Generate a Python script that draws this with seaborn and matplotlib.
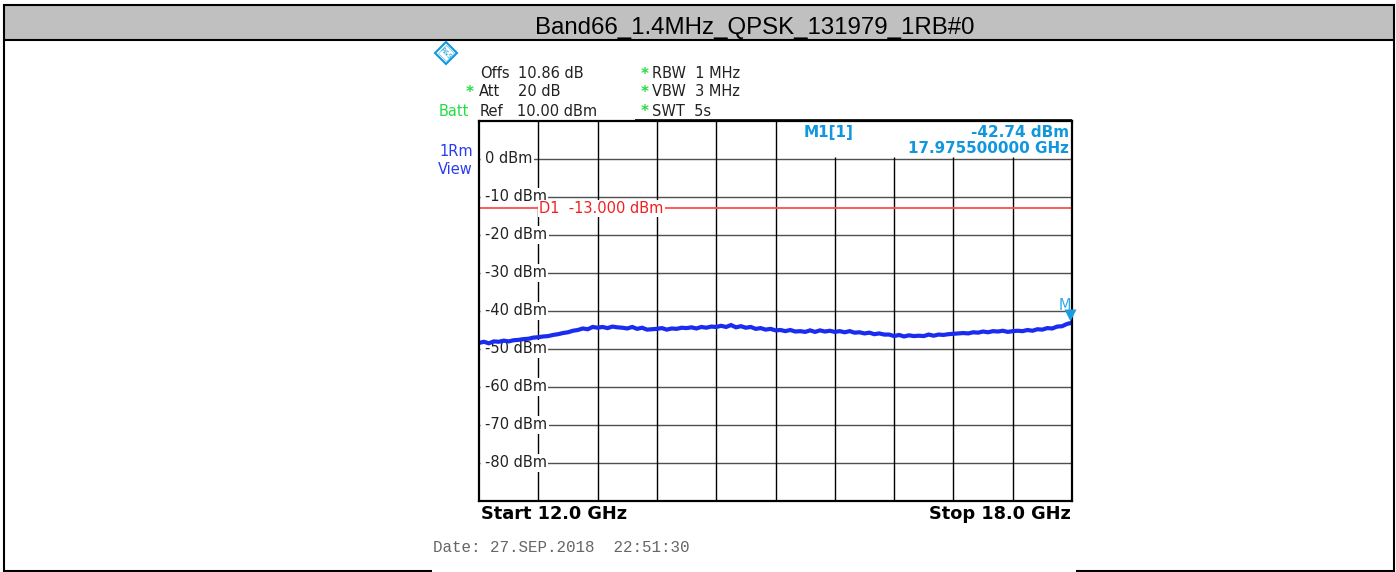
import matplotlib
matplotlib.use("Agg")
import matplotlib.pyplot as plt
from matplotlib.patches import Rectangle
import pandas as pd
import seaborn as sns

W, H = 1396, 572

title = "Band66_1.4MHz_QPSK_131979_1RB#0"

# trace, one reading every 0.05 GHz
freq_ghz = [12.0, 12.05, 12.1, 12.15, 12.2, 12.25, 12.3, 12.35, 12.4, 12.45, 12.5, 12.55,
            12.6, 12.65, 12.7, 12.75, 12.8, 12.85, 12.9, 12.95, 13.0, 13.05, 13.1, 13.15,
            13.2, 13.25, 13.3, 13.35, 13.4, 13.45, 13.5, 13.55, 13.6, 13.65, 13.7, 13.75,
            13.8, 13.85, 13.9, 13.95, 14.0, 14.05, 14.1, 14.15, 14.2, 14.25, 14.3, 14.35,
            14.4, 14.45, 14.5, 14.55, 14.6, 14.65, 14.7, 14.75, 14.8, 14.85, 14.9, 14.95,
            15.0, 15.05, 15.1, 15.15, 15.2, 15.25, 15.3, 15.35, 15.4, 15.45, 15.5, 15.55,
            15.6, 15.65, 15.7, 15.75, 15.8, 15.85, 15.9, 15.95, 16.0, 16.05, 16.1, 16.15,
            16.2, 16.25, 16.3, 16.35, 16.4, 16.45, 16.5, 16.55, 16.6, 16.65, 16.7, 16.75,
            16.8, 16.85, 16.9, 16.95, 17.0, 17.05, 17.1, 17.15, 17.2, 17.25, 17.3, 17.35,
            17.4, 17.45, 17.5, 17.55, 17.6, 17.65, 17.7, 17.75, 17.8, 17.85, 17.9, 17.95, 18.0]
level_dbm = [-48.4, -48.1, -48.5, -48.0, -48.1, -47.8, -48.0, -47.7, -47.6, -47.4, -47.3, -47.0,
             -46.9, -46.7, -46.6, -46.3, -46.1, -45.8, -45.6, -45.2, -45.0, -44.6, -44.8, -44.2,
             -44.4, -44.2, -44.5, -44.1, -44.3, -44.4, -44.6, -44.2, -44.7, -44.4, -44.9, -44.8,
             -44.7, -44.5, -44.9, -44.6, -44.7, -44.4, -44.5, -44.3, -44.6, -44.2, -44.4, -44.1,
             -44.2, -43.9, -44.2, -43.7, -44.3, -44.0, -44.4, -44.2, -44.7, -44.5, -44.9, -44.7,
             -45.1, -45.0, -45.3, -45.0, -45.4, -45.3, -45.5, -45.1, -45.5, -45.1, -45.4, -45.2,
             -45.5, -45.3, -45.6, -45.3, -45.7, -45.6, -45.9, -45.7, -46.1, -45.9, -46.2, -46.2,
             -46.6, -46.3, -46.7, -46.4, -46.6, -46.5, -46.6, -46.2, -46.5, -46.2, -46.3, -46.1,
             -46.0, -45.9, -45.8, -45.9, -45.6, -45.7, -45.4, -45.6, -45.3, -45.4, -45.2, -45.5,
             -45.3, -45.2, -45.3, -45.0, -45.2, -44.8, -44.9, -44.5, -44.6, -44.1, -44.0, -43.4, -43.1]

db_ticks = [0, -10, -20, -30, -40, -50, -60, -70, -80]
ghz_grid = [12.6, 13.2, 13.8, 14.4, 15.0, 15.6, 16.2, 16.8, 17.4]
limit_dbm = -13.0
marker_ghz = 17.9755
marker_dbm = -42.74

sns.set_theme(style="white")
plt.rcParams["font.family"] = ["DejaVu Sans"]

fig = plt.figure(figsize=(W / 100, H / 100), dpi=100)


def fx(px):
    return px / W


def fy(py):
    return 1 - py / H


def ftext(px, py, s, **kw):
    kw.setdefault("va", "center")
    kw.setdefault("fontsize", 10.5)
    kw.setdefault("color", "#222222")
    fig.text(fx(px), fy(py), s, **kw)


def fline(x0, y0, x1, y1, lw=1.5, color="black"):
    fig.add_artist(plt.Line2D([fx(x0), fx(x1)], [fy(y0), fy(y1)], lw=lw, color=color,
                              solid_capstyle="butt"))


# header band and outer frame
fig.add_artist(Rectangle((fx(4), fy(40)), fx(1390), 35 / H, transform=fig.transFigure,
                         facecolor="#c0c0c0", edgecolor="none"))
fline(3, 5, 1395, 5)
fline(3, 40, 1395, 40)
fline(4, 4, 4, 572)
fline(1394, 4, 1394, 572)
fline(3, 571.2, 432, 571.2)
fline(1076, 571.2, 1395, 571.2)
ftext(755, 28, title, ha="center", fontsize=17.3, color="black", family="Liberation Sans")

# plot area
ax = fig.add_axes([fx(479), fy(501), 593 / W, 380 / H])
ax.set_xlim(12, 18)
ax.set_ylim(-90, 10)
ax.set_xticks([])
ax.set_yticks([])
for sp in ax.spines.values():
    sp.set_color("black")
    sp.set_linewidth(1.6)
    sp.set_visible(True)
    sp.set_zorder(6)

ax.hlines(db_ticks, 12, 18, color="#505050", lw=1.0, zorder=1)
for g in ghz_grid:
    # the marker readout box hides the top of the lines right of 15 GHz
    ax.vlines(g, -90, 0.6 if g > 15 else 10, color="black", lw=1.0, zorder=1)

for d in db_ticks:
    ax.text(12.06, d + 0.1, f"{d} dBm", fontsize=10.5, color="#222222", ha="left", va="center",
            zorder=2, bbox=dict(facecolor="white", edgecolor="none", pad=1))
    # blank the gridline between frame and label
    ax.hlines(d, 12.01, 12.06, color="white", lw=2, zorder=1.5)

ax.axhline(limit_dbm, color="#ff4d4d", lw=1.3, zorder=3)
ax.text(12.61, limit_dbm, "D1  -13.000 dBm", fontsize=10.5, color="#f02020", ha="left",
        va="center", zorder=4, bbox=dict(facecolor="white", edgecolor="none", pad=0.6))

trace = pd.DataFrame({"freq": freq_ghz, "level": level_dbm})
sns.lineplot(data=trace, x="freq", y="level", ax=ax, color="#1a2cf0", lw=3.0, errorbar=None,
             zorder=5, solid_joinstyle="miter")
ax.set_xlabel("")
ax.set_ylabel("")

ax.plot([marker_ghz], [marker_dbm + 1.6], marker="v", ms=8, color="#1b9be0", mec="none",
        zorder=7, clip_on=False)

# marker readout
blue = "#1197dd"
ftext(1065, 305, "M", ha="center", color="#35a8e6", fontsize=10.5)
ftext(828.5, 132, "M1[1]", ha="center", color=blue, fontweight="bold", fontsize=11)
ftext(1069, 132, "-42.74 dBm", ha="right", color=blue, fontweight="bold", fontsize=11)
ftext(1069, 148.5, "17.975500000 GHz", ha="right", color=blue, fontweight="bold", fontsize=10.9)

# setting block above the plot
green = "#22dd44"
ftext(480, 73.5, "Offs")
ftext(518, 73.5, "10.86 dB")
ftext(479, 92, "Att")
ftext(518, 92, "20 dB")
ftext(480, 111, "Ref")
ftext(517, 111, "10.00 dBm")
ftext(439, 111, "Batt", color=green)
ftext(469.5, 92.5, "*", ha="center", color=green, fontweight="bold", fontsize=11)
for py, s in [(73.5, "RBW  1 MHz"), (92, "VBW  3 MHz"), (111, "SWT  5s")]:
    ftext(644.5, py + 0.5, "*", ha="center", color=green, fontweight="bold", fontsize=11)
    ftext(652.5, py, s)
fline(635, 120.3, 1072, 120.3, lw=1.2)

ftext(473, 152, "1Rm", ha="right", color="#2a3cf0")
ftext(473, 169.5, "View", ha="right", color="#2a3cf0")

# logo
fig.add_artist(plt.Line2D([fx(445.5)], [fy(53)], marker="D", ms=11.5, mfc="white", mec=blue, mew=1.5))
fig.add_artist(plt.Line2D([fx(445.5)], [fy(53)], marker="D", ms=8.5, mfc="none", mec="#7cc8ee", mew=0.6))
ftext(445.5, 53, "R&S", ha="center", color=blue, fontsize=4.8, rotation=-45)

# footer
ftext(481, 514, "Start 12.0 GHz", ha="left", color="black", fontweight="bold", fontsize=12.8)
ftext(1071, 514, "Stop 18.0 GHz", ha="right", color="black", fontweight="bold", fontsize=12.8)
ftext(433, 548, "Date: 27.SEP.2018  22:51:30", ha="left", color="#666666", fontsize=11.4,
      family="Liberation Mono")

fig.savefig("out.png", dpi=100)
